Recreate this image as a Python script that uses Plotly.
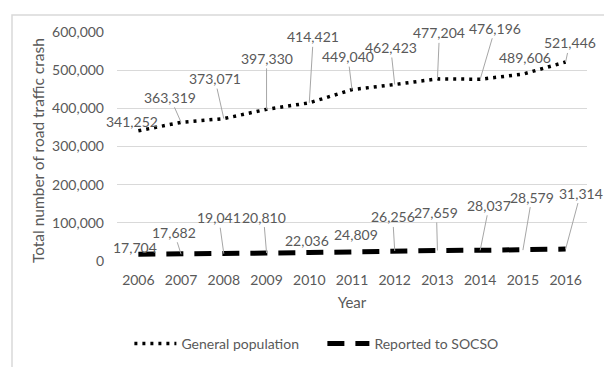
import plotly.graph_objects as go

years = ["2006", "2007", "2008", "2009", "2010", "2011", "2012", "2013", "2014", "2015", "2016"]
general = [341252, 363319, 373071, 397330, 414421, 449040, 462423, 477204, 476196, 489606, 521446]
socso = [17704, 17682, 19041, 20810, 22036, 24809, 26256, 27659, 28037, 28579, 31314]

# label offsets (px, text centre relative to point) and whether a leader line is drawn
gen_off = [(-6, -9, False), (-11, -25, True), (-9, -40, True), (0, -51, True), (4, -66, True),
           (-4, -33, True), (-4, -37, True), (2, -46, True), (15, -51, True), (2, -17, False), (4, -19, True)]
soc_off = [(-3, -7, False), (-7, -22, True), (-5, -36, True), (-3, -36, True), (-2, -12, False),
           (4, -17, False), (-2, -34, True), (-1, -38, True), (9, -45, True), (9, -53, True), (15, -56, True)]

FONT = "Lato, 'Open Sans', sans-serif"
GRAY = "#595959"
FS = 14

fig = go.Figure()
fig.add_trace(go.Scatter(x=years, y=general, mode="lines", name="General population",
                         line=dict(color="black", width=3.5, dash="3px,5px")))
fig.add_trace(go.Scatter(x=years, y=socso, mode="lines", name="Reported to SOCSO",
                         line=dict(color="black", width=5, dash="17px,11px")))

for series, offs in ((general, gen_off), (socso, soc_off)):
    for i, (v, (dx, dy, lead)) in enumerate(zip(series, offs)):
        txt = f"{v:,}"
        if lead:
            fig.add_annotation(x=i, y=v, xref="x", yref="y", text=txt, showarrow=True,
                               axref="pixel", ayref="pixel", ax=dx, ay=dy,
                               arrowhead=0, arrowwidth=1, arrowcolor="#a6a6a6", standoff=0,
                               font=dict(family=FONT, size=FS, color=GRAY))
        else:
            fig.add_annotation(x=i, y=v, xref="x", yref="y", text=txt, showarrow=False,
                               xshift=dx, yshift=-dy,
                               font=dict(family=FONT, size=FS, color=GRAY))

# y-axis title as rotated annotation
fig.add_annotation(x=-0.168, y=0.48, xref="paper", yref="paper", text="Total number of road traffic crash",
                   textangle=-90, showarrow=False, xanchor="center", yanchor="middle",
                   font=dict(family=FONT, size=15.5, color=GRAY))

fig.update_layout(
    width=604, height=367,
    margin=dict(l=117, r=17, t=32, b=106, autoexpand=False),
    paper_bgcolor="white", plot_bgcolor="white",
    font=dict(family=FONT, size=FS, color=GRAY),
    showlegend=True,
    legend=dict(orientation="h", x=0.437, xanchor="center", y=-0.362, yanchor="middle",
                font=dict(family=FONT, size=FS, color=GRAY), entrywidth=136, itemwidth=42),
    shapes=[dict(type="rect", xref="paper", yref="paper", x0=-0.2234, x1=1.2, y0=-0.6, y1=1.074,
                 line=dict(color="#d9d9d9", width=1.5), layer="below")],
    xaxis=dict(type="category", range=[-0.5, 10.5], showgrid=False, showline=False, zeroline=False,
               ticks="", ticklabelstandoff=9,
               title=dict(text="Year", standoff=10, font=dict(family=FONT, size=15, color=GRAY)),
               tickfont=dict(family=FONT, size=FS, color=GRAY), automargin=False),
    yaxis=dict(range=[0, 600000], tickvals=[0, 100000, 200000, 300000, 400000, 500000, 600000],
               tickformat=",d", showgrid=True, gridcolor="#d9d9d9", gridwidth=1,
               zeroline=False, showline=False, ticks="", ticklabelstandoff=12,
               tickfont=dict(family=FONT, size=FS, color=GRAY), automargin=False),
)
fig.write_html("out.html")
